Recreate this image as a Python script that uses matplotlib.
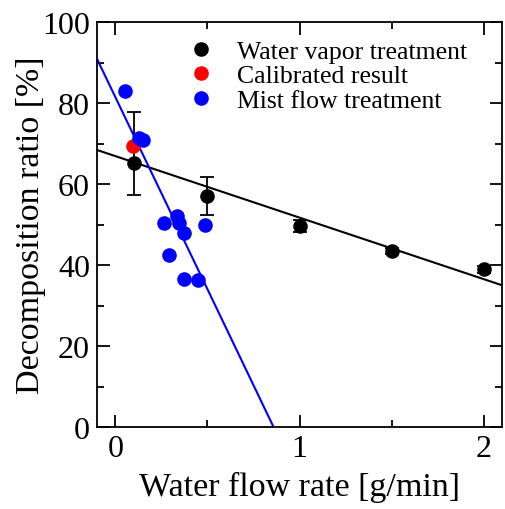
import numpy as np
import matplotlib
matplotlib.use("Agg")
import matplotlib.pyplot as plt
from matplotlib.ticker import MultipleLocator

plt.rcParams['font.family'] = ['Liberation Serif', 'DejaVu Serif']

# water vapor treatment (black)
vapor_x = [0.1, 0.5, 1.0, 1.5, 2.0]
vapor_y = [65.2, 57.0, 49.6, 43.4, 38.9]
vapor_err_low = [8.0, 4.7, 1.5, 0.8, 0.8]
vapor_err_high = [12.5, 4.7, 1.5, 0.8, 0.8]

# calibrated result (red)
calib_x = [0.095]
calib_y = [69.4]

# mist flow treatment (blue)
mist_x = [0.05, 0.13, 0.15, 0.266, 0.293, 0.337, 0.348, 0.37, 0.375, 0.45, 0.484]
mist_y = [83.0, 71.3, 70.9, 50.4, 42.5, 52.1, 50.4, 36.5, 47.9, 36.3, 49.9]

# fitted lines (end points)
vapor_fit_x = [-0.1, 2.1]
vapor_fit_y = [68.4, 35.0]
mist_fit_x = [-0.1, 0.859]
mist_fit_y = [90.9, 0.0]

fig = plt.figure(figsize=(5.05, 5.10), dpi=100)
ax = fig.add_axes([97 / 505, 82 / 510, 405 / 505, 405 / 510])

ax.plot(vapor_fit_x, vapor_fit_y, color='black', lw=1.5, zorder=2)
ax.plot(mist_fit_x, mist_fit_y, color='blue', lw=1.5, zorder=2)

ax.errorbar(vapor_x, vapor_y, yerr=[vapor_err_low, vapor_err_high], fmt='none',
            ecolor='black', elinewidth=1.3, capsize=5, capthick=1.3, zorder=3)
ax.plot(vapor_x, vapor_y, 'o', color='black', ms=10.5, mec='none', zorder=4,
        label='Water vapor treatment')
ax.plot(calib_x, calib_y, 'o', color='red', ms=10.5, mec='none', zorder=4,
        label='Calibrated result')
ax.plot(mist_x, mist_y, 'o', color='blue', ms=10.5, mec='none', zorder=5,
        label='Mist flow treatment')

ax.set_xlim(-0.1, 2.1)
ax.set_ylim(0, 100)
ax.xaxis.set_major_locator(MultipleLocator(1))
ax.xaxis.set_minor_locator(MultipleLocator(0.5))
ax.yaxis.set_major_locator(MultipleLocator(20))
ax.yaxis.set_minor_locator(MultipleLocator(10))
ax.tick_params(which='both', direction='in', top=True, right=True, width=1.3,
               labelsize=23, pad=5)
ax.tick_params(which='major', length=9)
ax.tick_params(which='minor', length=5)
for s in ax.spines.values():
    s.set_linewidth(1.3)

ax.set_xlabel('Water flow rate [g/min]', fontsize=24.5, labelpad=6)
ax.set_ylabel('Decomposition ratio [%]', fontsize=24.5, labelpad=-3)

ax.legend(loc='upper left', bbox_to_anchor=(0.225, 0.955), frameon=False,
          fontsize=18.5, handlelength=1.0, handletextpad=0.9, labelspacing=0.05,
          borderpad=0, borderaxespad=0, markerscale=1.0)

fig.savefig('out.png', dpi=100)
